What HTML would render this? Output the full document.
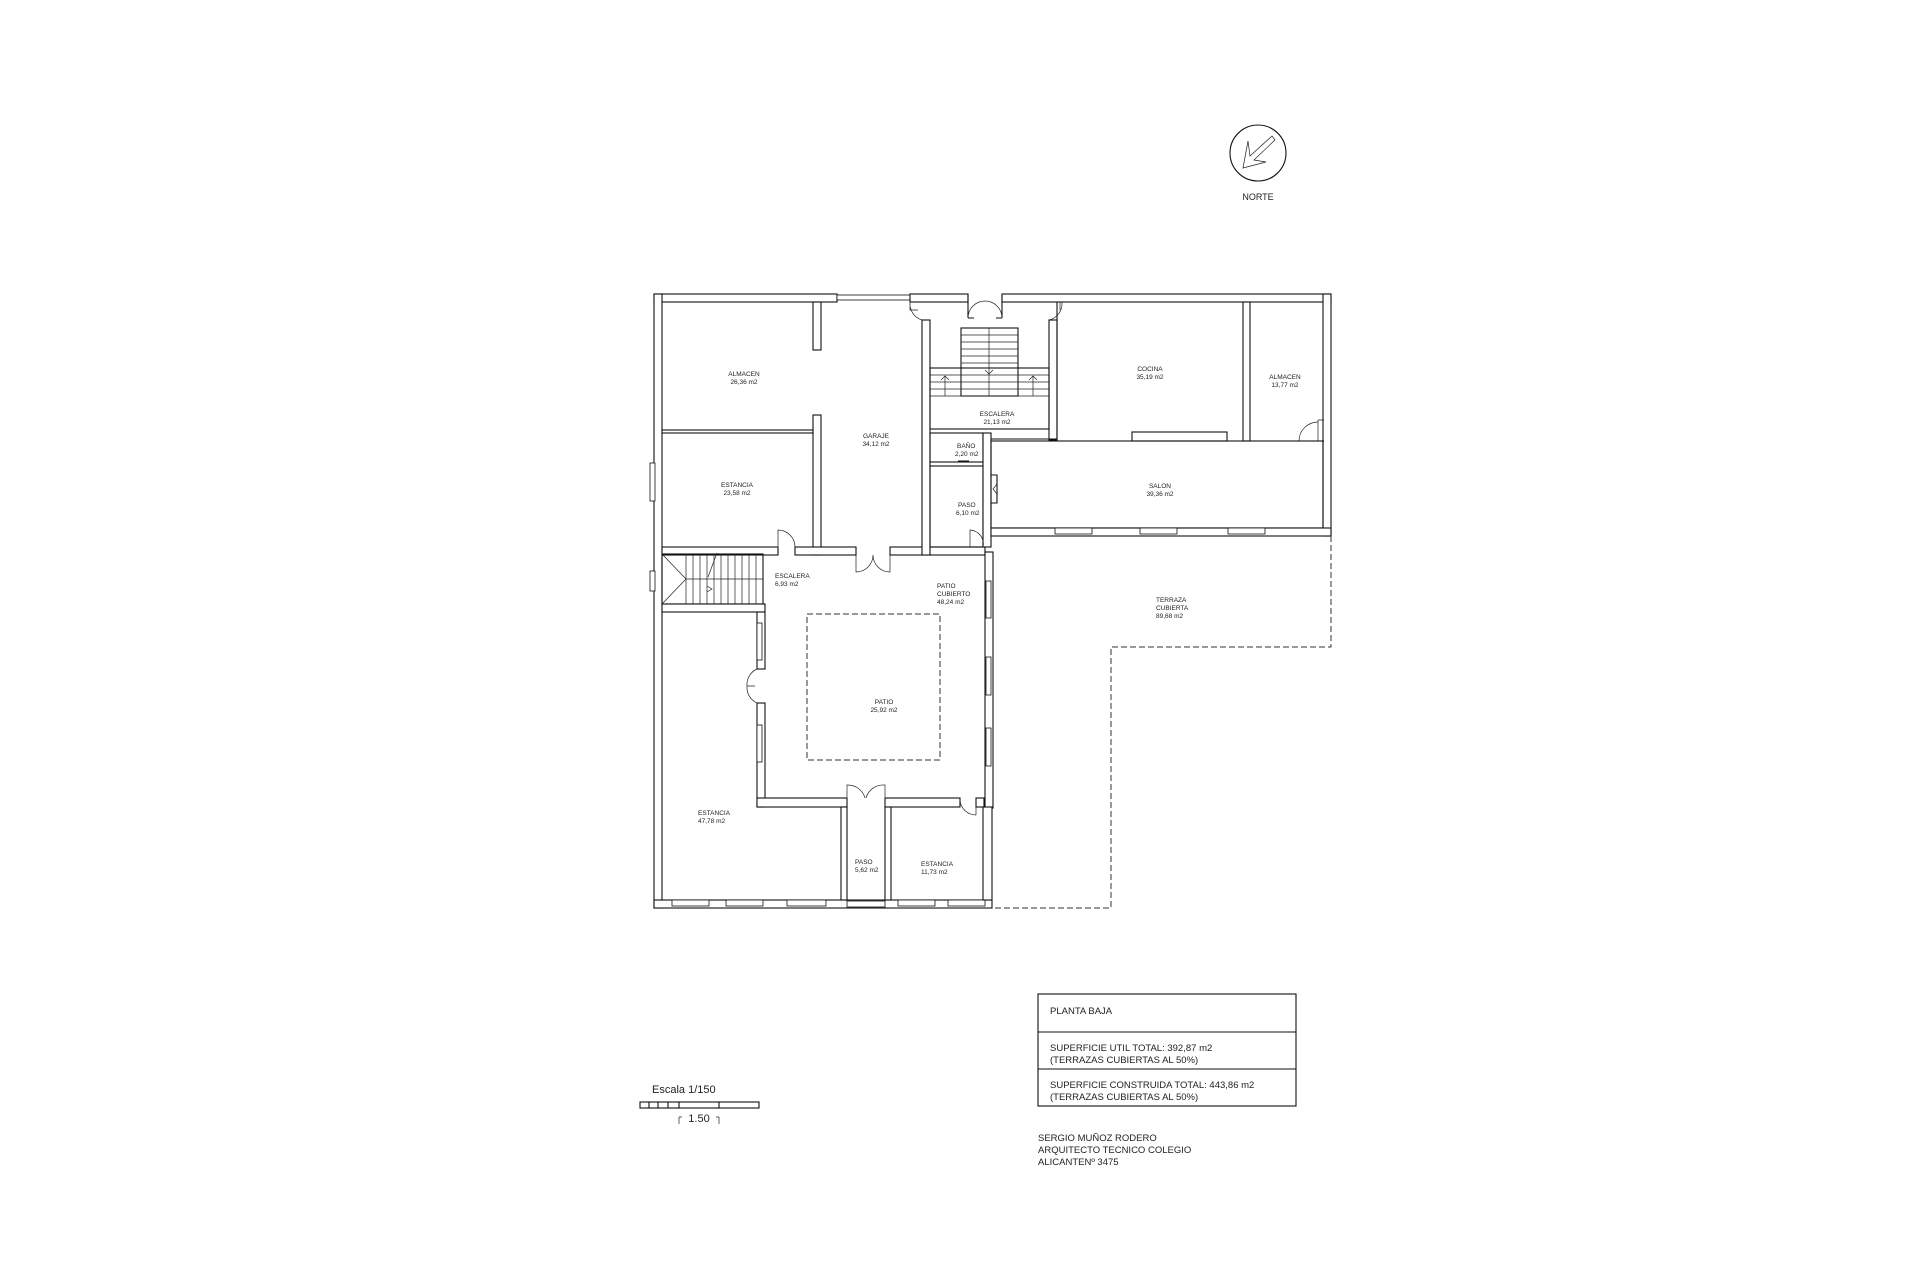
<!DOCTYPE html>
<html><head><meta charset="utf-8"><style>
html,body{margin:0;padding:0;background:#fff;}
svg{display:block}
text{font-family:"Liberation Sans",sans-serif;fill:#222}
.r{font-size:6.5px}
.w{fill:#fff;stroke:#111;stroke-width:1.1}
.l{stroke:#111;stroke-width:1.1;fill:none}
.t{stroke:#222;stroke-width:0.7;fill:none}
.d{stroke:#333;stroke-width:1;fill:none;stroke-dasharray:6,3}
.win{fill:#fff;stroke:#111;stroke-width:0.8}
</style></head><body>
<svg width="1920" height="1280" viewBox="0 0 1920 1280" xmlns="http://www.w3.org/2000/svg">
<!-- North -->
<circle cx="1258" cy="153" r="28" class="l" stroke-width="1"/>
<path d="M1243,168 L1248,141 L1250,156 L1272,136 L1275,140 L1254,160 L1266,162 Z" class="t" stroke-width="1"/>
<text x="1258" y="200" font-size="9" text-anchor="middle">NORTE</text>

<!-- outer walls -->
<rect x="654" y="294" width="183" height="8" class="w"/>
<rect x="837" y="295" width="73" height="5" class="win"/>
<rect x="910" y="294" width="58" height="8" class="w"/>
<path d="M968,294 V318 M1002,294 V318 M968,318 h6 M1002,318 h-6" class="l"/>
<path d="M968,318 A17,17 0 0 1 985,301 M1002,318 A17,17 0 0 0 985,301" class="t"/>
<rect x="1002" y="294" width="329" height="8" class="w"/>
<rect x="654" y="294" width="8" height="614" class="w"/>
<rect x="1323" y="294" width="8" height="242" class="w"/>
<rect x="650" y="463" width="5" height="38" class="win"/>
<rect x="650" y="571" width="5" height="20" class="win"/>
<rect x="654" y="900" width="338" height="8" class="w"/>
<!-- bottom windows -->
<rect x="672" y="900" width="37" height="6" class="win"/>
<rect x="726" y="900" width="37" height="6" class="win"/>
<rect x="787" y="900" width="39" height="6" class="win"/>
<rect x="847" y="901" width="38" height="6" class="win"/>
<rect x="898" y="900" width="37" height="6" class="win"/>
<rect x="948" y="900" width="37" height="6" class="win"/>

<!-- upper left block -->
<rect x="813" y="302" width="8" height="48" class="w"/>
<rect x="813" y="415" width="8" height="140" class="w"/>
<rect x="662" y="430" width="151" height="3" class="w"/>
<rect x="662" y="547" width="116" height="8" class="w"/>
<rect x="795" y="547" width="61" height="8" class="w"/>
<rect x="890" y="547" width="95" height="8" class="w"/>
<path d="M778,547 V530 A17,17 0 0 1 795,547" class="t"/>
<path d="M856,555 V572 A17,17 0 0 0 873,555 M890,555 V572 A17,17 0 0 1 873,555" class="t"/>
<!-- garage right wall / hall -->
<rect x="922" y="320" width="8" height="235" class="w"/>
<path d="M910,302 V310 h8 M922,320 A17,17 0 0 1 910,302" class="t"/>
<rect x="1049" y="320" width="8" height="120" class="w"/>
<path d="M1060,302 V310 M1049,320 A17,17 0 0 0 1062,302" class="t"/>
<!-- escalera -->
<rect x="930" y="368" width="119" height="61" class="l"/>
<rect x="961" y="328" width="57" height="68" class="l"/>
<path d="M961,335 h57 M961,342 h57 M961,349 h57 M961,356 h57 M961,363 h57 M989,328 v68 M930,375 h119 M930,382 h119 M930,389 h119 M930,396 h119" class="t"/>
<path d="M945,396 V376 M941,380 l4,-4 l4,4 M1033,396 V376 M1029,380 l4,-4 l4,4 M985,370 l4,4 l4,-4" class="t"/>
<!-- bano / paso -->
<rect x="930" y="433" width="53" height="29" class="l"/>
<path d="M930,462 h14 M960,462 h23 M958,461 h11" class="l"/>
<rect x="930" y="466" width="53" height="81" class="l"/>
<rect x="983" y="433" width="8" height="114" class="w"/>
<path d="M991,475 h6 v28 h-6" class="l"/>
<path d="M997,484 l-4,5 l4,5" class="t"/>
<path d="M970,547 V530 A14,14 0 0 1 983,547" class="t"/>
<!-- right block -->
<path d="M991,439 H1057 M1057,439 V302" class="l"/>
<path d="M1057,441 H1132 M1227,441 H1243 M1249,441 H1299 M1318,441 H1324" class="l"/>
<rect x="1132" y="432" width="95" height="9" class="l"/>
<rect x="1243" y="302" width="7" height="139" class="w"/>
<path d="M1318,441 V420 M1318,420 h6 M1299,441 A19,19 0 0 1 1318,422" class="t"/>
<rect x="991" y="441" width="332" height="87" class="l"/>
<rect x="991" y="528" width="340" height="8" class="w"/>
<rect x="1055" y="528" width="37" height="6" class="win"/>
<rect x="1140" y="528" width="37" height="6" class="win"/>
<rect x="1228" y="528" width="37" height="6" class="win"/>
<!-- terraza dashed -->
<path d="M1331,536 V647 H1111 V908 H992" class="d"/>

<!-- lower left escalera -->
<rect x="662" y="554" width="101" height="50" class="l"/>
<path d="M686,554 v50 M693,554 v50 M700,554 v50 M707,554 v50 M714,554 v50 M721,554 v50 M728,554 v50 M735,554 v50 M742,554 v50 M749,554 v50 M756,554 v50 M686,579 h77 M662,554 L686,579 L662,604" class="t"/>
<path d="M707,592 l5,-3 -5,-3 M708,577 L717,553" class="t"/>
<rect x="662" y="604" width="103" height="8" class="w"/>
<!-- wall estancia / patio cubierto -->
<rect x="757" y="612" width="8" height="57" class="w"/>
<rect x="757" y="703" width="8" height="104" class="w"/>
<rect x="757" y="623" width="5" height="37" class="win"/>
<rect x="757" y="725" width="5" height="37" class="win"/>
<path d="M757,669 A17,17 0 0 0 747,686 h8 M757,703 A17,17 0 0 1 747,686" class="t"/>
<!-- wall y 798 -->
<rect x="757" y="798" width="90" height="9" class="w"/>
<rect x="885" y="798" width="75" height="9" class="w"/>
<path d="M847,798 V785 A18,18 0 0 1 865,798 M885,798 V785 A18,18 0 0 0 866,798" class="t"/>
<path d="M976,807 V815 M960,800 A16,16 0 0 0 976,815" class="t"/>
<rect x="976" y="798" width="8" height="9" class="w"/>
<rect x="985" y="552" width="8" height="256" class="w"/>
<rect x="986" y="581" width="5" height="37" class="win"/>
<rect x="986" y="657" width="5" height="38" class="win"/>
<rect x="986" y="728" width="5" height="38" class="win"/>
<!-- paso walls -->
<rect x="841" y="807" width="6" height="93" class="w"/>
<rect x="885" y="807" width="6" height="93" class="w"/>
<rect x="983" y="807" width="9" height="93" class="w"/>
<!-- patio dashed -->
<rect x="807" y="614" width="133" height="146" class="d"/>

<!-- labels -->
<g class="r" text-anchor="middle">
<text x="744" y="376">ALMACEN</text><text x="744" y="384">26,36 m2</text>
<text x="876" y="438">GARAJE</text><text x="876" y="446">34,12 m2</text>
<text x="737" y="487">ESTANCIA</text><text x="737" y="495">23,58 m2</text>
<text x="997" y="416">ESCALERA</text><text x="997" y="424">21,13 m2</text>
<text x="1150" y="371">COCINA</text><text x="1150" y="379">35,19 m2</text>
<text x="1285" y="379">ALMACEN</text><text x="1285" y="387">13,77 m2</text>
<text x="1160" y="488">SALON</text><text x="1160" y="496">39,36 m2</text>
<text x="884" y="704">PATIO</text><text x="884" y="712">25,92 m2</text>
</g>
<g class="r">
<text x="957" y="448">BAÑO</text><text x="955" y="456">2,20 m2</text>
<text x="958" y="507">PASO</text><text x="956" y="515">6,10 m2</text>
<text x="775" y="578">ESCALERA</text><text x="775" y="586">6,93 m2</text>
<text x="937" y="588">PATIO</text><text x="937" y="596">CUBIERTO</text><text x="937" y="604">48,24 m2</text>
<text x="1156" y="602">TERRAZA</text><text x="1156" y="610">CUBIERTA</text><text x="1156" y="618">89,68 m2</text>
<text x="698" y="815">ESTANCIA</text><text x="698" y="823">47,78 m2</text>
<text x="855" y="864">PASO</text><text x="855" y="872">5,62 m2</text>
<text x="921" y="866">ESTANCIA</text><text x="921" y="874">11,73 m2</text>
</g>

<!-- scale -->
<text x="652" y="1093" font-size="11">Escala 1/150</text>
<rect x="640" y="1102" width="119" height="6" class="l" stroke-width="1"/>
<path d="M649,1102 v6 M658,1102 v6 M668,1102 v6 M679,1102 v6 M719,1102 v6" class="l" stroke-width="1"/>
<path d="M679,1117 v7 M679,1117 h3 M719,1117 v7 M719,1117 h-3" class="t"/>
<text x="699" y="1122" font-size="11" text-anchor="middle">1.50</text>

<!-- info box -->
<rect x="1038" y="994" width="258" height="112" class="l" stroke-width="1"/>
<path d="M1038,1032 h258 M1038,1069 h258" class="l" stroke-width="1"/>
<g font-size="9.5">
<text x="1050" y="1014">PLANTA BAJA</text>
<text x="1050" y="1051">SUPERFICIE UTIL TOTAL: 392,87 m2</text>
<text x="1050" y="1063">(TERRAZAS CUBIERTAS AL 50%)</text>
<text x="1050" y="1088">SUPERFICIE CONSTRUIDA TOTAL: 443,86 m2</text>
<text x="1050" y="1100">(TERRAZAS CUBIERTAS AL 50%)</text>
<text x="1038" y="1141">SERGIO MUÑOZ RODERO</text>
<text x="1038" y="1153">ARQUITECTO TECNICO COLEGIO</text>
<text x="1038" y="1165">ALICANTENº 3475</text>
</g>
</svg>
</body></html>
